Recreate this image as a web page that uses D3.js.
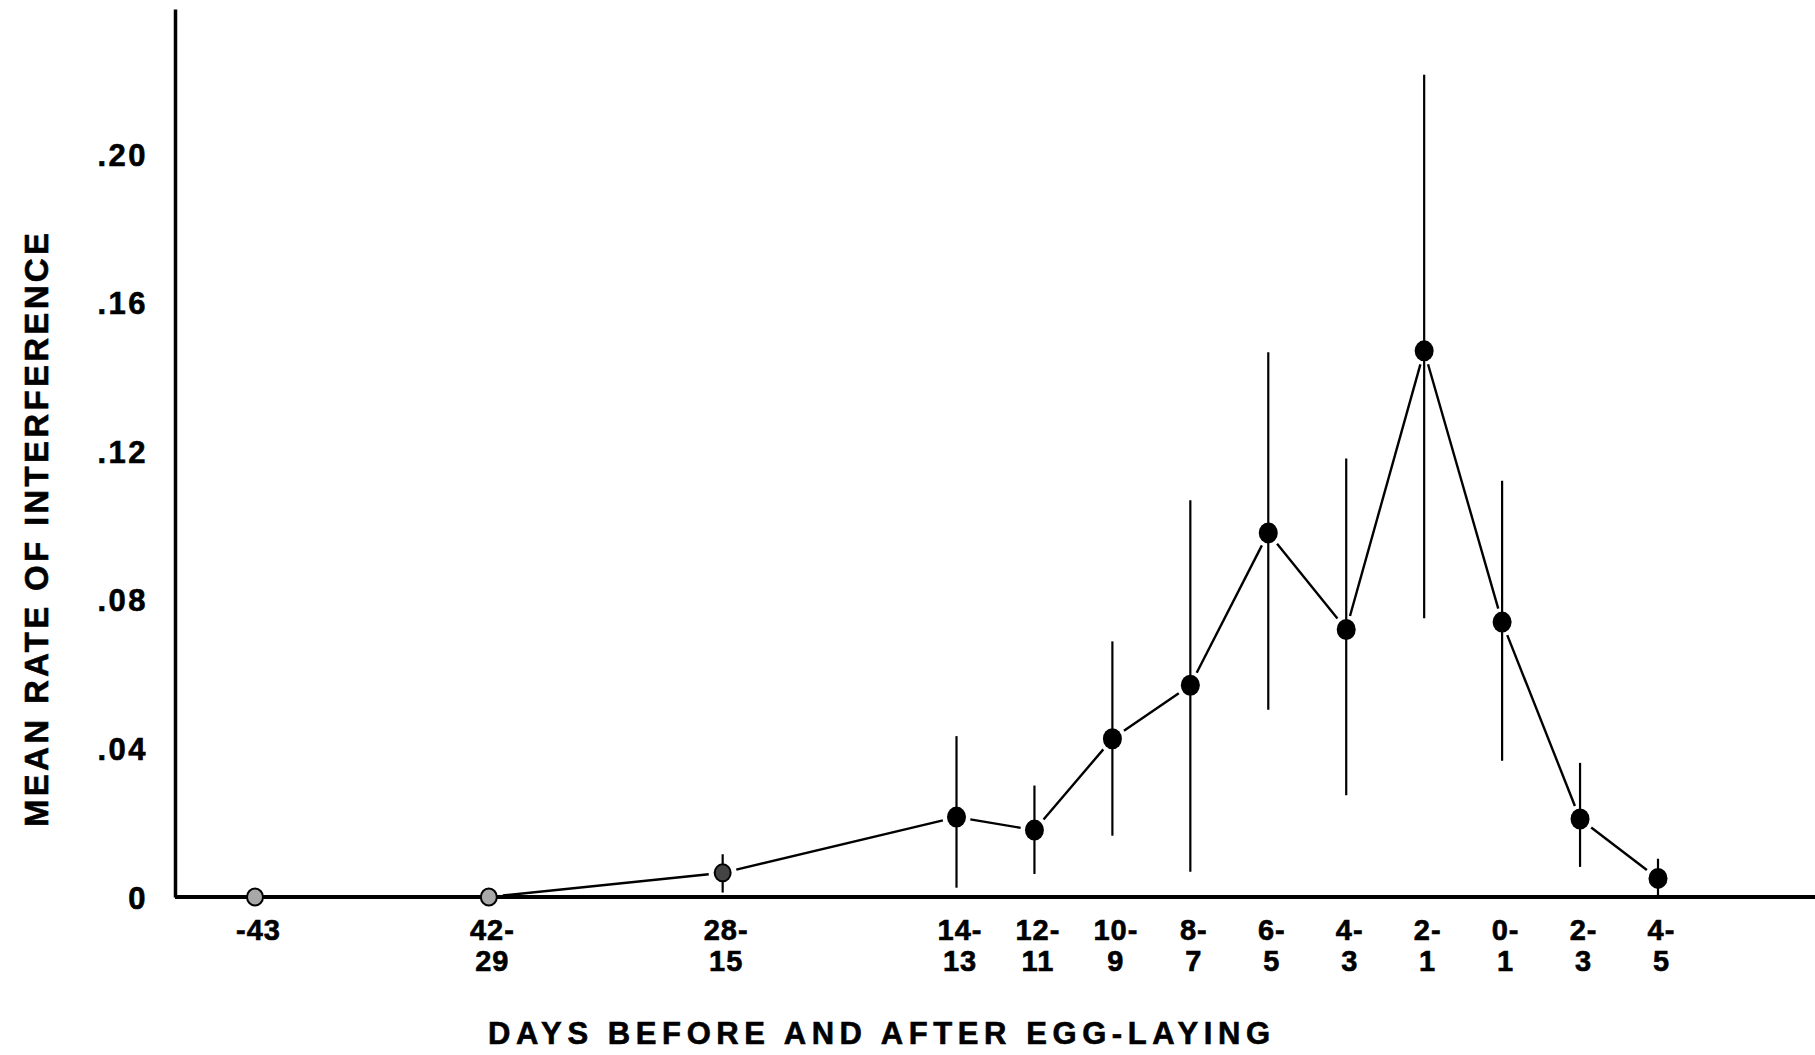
<!DOCTYPE html>
<html><head><meta charset="utf-8">
<script src="https://cdn.jsdelivr.net/npm/d3@7"></script>
<style>body{margin:0;background:#fff}svg{display:block}</style>
</head><body><svg id="c" width="1815" height="1055"></svg>
<script>
// ---- data ----
const categories = ["-43","42-29","28-15","14-13","12-11","10-9","8-7","6-5","4-3","2-1","0-1","2-3","4-5"];
const labelTop = ["-43","42-","28-","14-","12-","10-","8-","6-","4-","2-","0-","2-","4-"];
const labelBottom = ["","29","15","13","11","9","7","5","3","1","1","3","5"];
const slots = [0,3,6,9,10,11,12,13,14,15,16,17,18];
const meanRate = [0,0,0.0065,0.0215,0.018,0.0426,0.057,0.098,0.072,0.147,0.074,0.021,0.005];
const upperBar = [0,0,0.0115,0.0433,0.030,0.0688,0.1068,0.1466,0.118,0.2213,0.112,0.0361,0.0103];
const lowerBar = [0,0,0.0012,0.0025,0.0062,0.0165,0.0068,0.0504,0.0274,0.075,0.0367,0.0081,0];
const markerKind = ["light","light","mid","full","full","full","full","full","full","full","full","full","full"];
const yTicks = [0,0.04,0.08,0.12,0.16,0.20];
const yTickLabels = ["0",".04",".08",".12",".16",".20"];
const yTitle = "MEAN RATE OF INTERFERENCE";
const xTitle = "DAYS BEFORE AND AFTER EGG-LAYING";

// ---- layout ----
const svg = d3.select("#c");
const font = "'Liberation Sans', Arial, sans-serif";
const x = d3.scaleLinear().domain([0,18]).range([255,1658]);
const y = d3.scaleLinear().domain([0,0.239]).range([897,9]);
const axisX0 = 175;

// y axis
const yAxis = d3.axisLeft(y).tickValues(yTicks)
  .tickFormat((d,i)=>yTickLabels[i]).tickSize(0).tickPadding(0);
const gy = svg.append("g").attr("transform",`translate(${axisX0},0)`).call(yAxis);
gy.select(".domain").attr("stroke","#000").attr("stroke-width",3.5);
gy.selectAll(".tick text")
  .attr("x",-27).attr("dy","0.36em")
  .attr("font-family",font).attr("font-weight","bold")
  .attr("font-size",31).attr("letter-spacing",2.5).attr("fill","#000")
  .attr("stroke","#000").attr("stroke-width",0.6);

// x axis baseline
svg.append("line").attr("x1",axisX0).attr("x2",1815)
  .attr("y1",y(0)).attr("y2",y(0))
  .attr("stroke","#000").attr("stroke-width",4);

// x tick labels
const xAxis = d3.axisBottom(x).tickValues(slots).tickSize(0).tickFormat("");
const gx = svg.append("g").attr("transform",`translate(0,${y(0)})`).call(xAxis);
gx.select(".domain").remove();
gx.selectAll(".tick").each(function(d,i){
  const t = d3.select(this).append("text")
    .attr("font-family",font).attr("font-weight","bold")
    .attr("font-size",29).attr("fill","#000").attr("text-anchor","middle")
    .attr("letter-spacing",1).attr("stroke","#000").attr("stroke-width",0.6);
  t.append("tspan").attr("x",3).attr("y",43).text(labelTop[i]);
  if (labelBottom[i]) t.append("tspan").attr("x",3).attr("y",74).text(labelBottom[i]);
});

// error bars
svg.append("g").selectAll("line").data(categories).join("line")
  .attr("x1",(d,i)=>x(slots[i])).attr("x2",(d,i)=>x(slots[i]))
  .attr("y1",(d,i)=>y(upperBar[i])).attr("y2",(d,i)=>y(lowerBar[i]))
  .attr("stroke","#000").attr("stroke-width",2.2);

// connecting segments with gaps near markers
const pts = categories.map((c,i)=>[x(slots[i]), y(meanRate[i])]);
const segs = [];
for (let i=0;i<pts.length-1;i++){
  const [x1,y1]=pts[i],[x2,y2]=pts[i+1];
  const L=Math.hypot(x2-x1,y2-y1), g=14;
  const ux=(x2-x1)/L, uy=(y2-y1)/L;
  segs.push([x1+ux*g,y1+uy*g,x2-ux*g,y2-uy*g]);
}
svg.append("g").selectAll("line").data(segs).join("line")
  .attr("x1",d=>d[0]).attr("y1",d=>d[1]).attr("x2",d=>d[2]).attr("y2",d=>d[3])
  .attr("stroke","#000").attr("stroke-width",2.4);

// markers
svg.append("g").selectAll("ellipse").data(categories).join("ellipse")
  .attr("cx",(d,i)=>x(slots[i])).attr("cy",(d,i)=>y(meanRate[i]))
  .attr("rx",(d,i)=>markerKind[i]==="full"?9.5:8)
  .attr("ry",(d,i)=>markerKind[i]==="full"?10.5:8.5)
  .attr("fill",(d,i)=>markerKind[i]==="light"?"#a8a8a8":markerKind[i]==="mid"?"#444":"#000")
  .attr("stroke","#000").attr("stroke-width",(d,i)=>markerKind[i]==="full"?0:2);

// titles
svg.append("text").attr("transform","translate(48,530) rotate(-90)")
  .attr("text-anchor","middle").attr("font-family",font).attr("font-weight","bold")
  .attr("font-size",33).attr("textLength",594).attr("lengthAdjust","spacing")
  .attr("fill","#000").attr("stroke","#000").attr("stroke-width",0.6).text(yTitle);
svg.append("text").attr("x",879).attr("y",1044)
  .attr("text-anchor","middle").attr("font-family",font).attr("font-weight","bold")
  .attr("font-size",31).attr("textLength",782).attr("lengthAdjust","spacing")
  .attr("fill","#000").attr("stroke","#000").attr("stroke-width",0.6).text(xTitle);
</script></body></html>
